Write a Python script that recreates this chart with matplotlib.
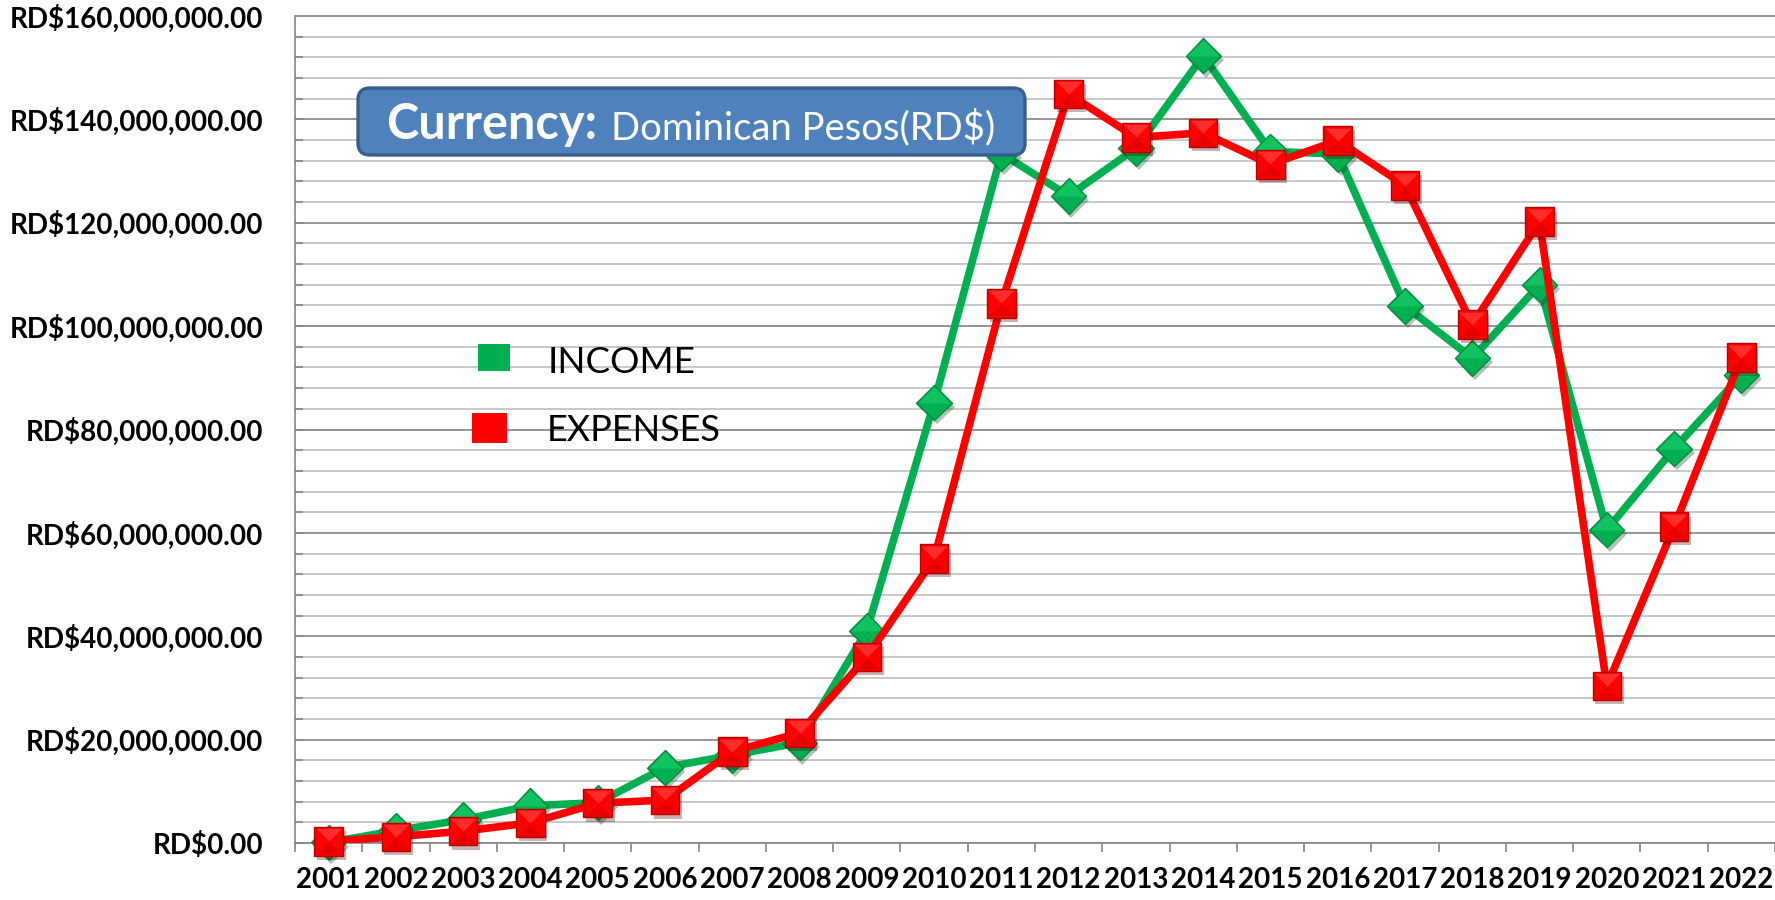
import matplotlib

matplotlib.use("Agg")
import matplotlib.pyplot as plt
import numpy as np
from matplotlib import patheffects
from matplotlib.patches import FancyBboxPatch, Rectangle
from matplotlib.path import Path
from matplotlib.ticker import FuncFormatter, MultipleLocator
from matplotlib.transforms import IdentityTransform

plt.rcParams["font.family"] = ["Lato", "DejaVu Sans"]

years = [str(y) for y in range(2001, 2023)]
# yearly totals, millions of RD$
income_m = [0.1, 2.4, 4.5, 7.2, 7.8, 14.6, 17.0, 19.4, 41.1, 85.2, 133.4,
            125.2, 134.4, 152.3, 133.8, 133.3, 103.9, 93.8, 108.0, 60.6,
            76.3, 90.5]
expenses_m = [0.3, 1.2, 2.3, 3.9, 7.7, 8.3, 17.7, 21.3, 36.0, 55.0, 104.4,
              144.9, 136.5, 137.4, 131.3, 135.9, 127.2, 100.3, 120.2, 30.4,
              61.2, 93.9]

GREEN = "#00B050"
GREEN_DARK = "#008A3E"
GREEN_LIGHT = "#1FD16F"
RED = "#FF0000"
RED_DARK = "#B80000"
RED_LIGHT = "#FF4A4A"
AXIS_GRAY = "#868686"

W, H = 1775, 900
fig = plt.figure(figsize=(W / 100, H / 100), dpi=100)
ax = fig.add_axes([295 / W, 1 - 843 / H, 1480 / W, 827 / H])

x = np.arange(len(years))
income = np.array(income_m) * 1e6
expenses = np.array(expenses_m) * 1e6

# bevelled facets drawn over the plain markers
top_half = Path([(-1, 0), (0, 1), (1, 0), (-1, 0)],
                [Path.MOVETO, Path.LINETO, Path.LINETO, Path.CLOSEPOLY])
sq_top = Path([(-1, 1), (1, 1), (0, 0), (-1, 1)],
              [Path.MOVETO, Path.LINETO, Path.LINETO, Path.CLOSEPOLY])
sq_bottom = Path([(-1, -1), (1, -1), (0, 0), (-1, -1)],
                 [Path.MOVETO, Path.LINETO, Path.LINETO, Path.CLOSEPOLY])
shadow = [patheffects.SimplePatchShadow(offset=(2, -3), alpha=0.3),
          patheffects.Normal()]

DIA = 18
SQ = 20.5

ax.plot(x, income, color=GREEN, lw=5.5, zorder=3, solid_joinstyle="round")
ax.plot(x, income, ls="none", marker="D", ms=DIA, mfc=GREEN, mec=GREEN_DARK,
        mew=1.0, zorder=4, clip_on=False, path_effects=shadow)
ax.plot(x, income, ls="none", marker=top_half, ms=DIA * 1.414 - 2,
        mfc=GREEN_LIGHT, mec="none", alpha=0.55, zorder=4.1, clip_on=False)

ax.plot(x, expenses, color=RED, lw=5.5, zorder=5, solid_joinstyle="round")
ax.plot(x, expenses, ls="none", marker="s", ms=SQ, mfc=RED, mec=RED_DARK,
        mew=1.0, zorder=6, clip_on=False, path_effects=shadow)
ax.plot(x, expenses, ls="none", marker=sq_top, ms=SQ - 2, mfc=RED_LIGHT,
        mec="none", alpha=0.6, zorder=6.1, clip_on=False)
ax.plot(x, expenses, ls="none", marker=sq_bottom, ms=SQ - 2, mfc="#D80000",
        mec="none", alpha=0.6, zorder=6.1, clip_on=False)

ax.set_xlim(-0.5, len(years) - 0.5)
ax.set_ylim(0, 160e6)

ax.yaxis.set_major_locator(MultipleLocator(20e6))
ax.yaxis.set_minor_locator(MultipleLocator(4e6))
ax.yaxis.set_major_formatter(FuncFormatter(lambda v, _: f"RD${v:,.2f}"))
ax.grid(axis="y", which="minor", color="#C4C4C4", lw=1.3, zorder=0)
ax.grid(axis="y", which="major", color="#959595", lw=1.4, zorder=0)

ax.set_xticks(x)
ax.set_xticklabels(years)
ax.set_xticks(np.arange(len(years) + 1) - 0.5, minor=True)
ax.tick_params(axis="x", which="major", length=0, pad=17, labelsize=20,
               labelcolor="black")
ax.tick_params(axis="x", which="minor", length=6.5, width=1.2,
               color=AXIS_GRAY, direction="out")
ax.tick_params(axis="y", which="both", direction="in", length=5.5, width=1.2,
               color=AXIS_GRAY)
ax.tick_params(axis="y", which="major", pad=23, labelsize=20)
for lab in ax.get_xticklabels() + ax.get_yticklabels():
    lab.set_fontweight("bold")

ax.spines["right"].set_visible(False)
ax.spines["top"].set_color("#959595")
ax.spines["top"].set_linewidth(1.4)
for side in ("left", "bottom"):
    ax.spines[side].set_color(AXIS_GRAY)
    ax.spines[side].set_linewidth(1.2)

# currency note, placed in pixel coordinates
px = IdentityTransform()
box = FancyBboxPatch((358, H - 155), 667, 67,
                     boxstyle="round,pad=0,rounding_size=12",
                     transform=px, fc="#4F81BD", ec="#385D8A", lw=2.4,
                     zorder=10)
fig.patches.append(box)
fig.text(386, H - 139, "Currency:", transform=px, color="white",
         fontsize=35, fontweight="bold", va="baseline", zorder=11)
fig.text(611, H - 139, "Dominican Pesos(RD$)", transform=px, color="white",
         fontsize=27.5, va="baseline", zorder=11)

# series key
fig.patches.append(Rectangle((478, H - 371), 32, 27, transform=px,
                             fc=GREEN, ec="none", zorder=10))
fig.patches.append(Rectangle((472, H - 443), 35, 30, transform=px,
                             fc=RED, ec="none", zorder=10))
fig.text(548, H - 373, "INCOME", transform=px, fontsize=26.5,
         va="baseline", zorder=11)
fig.text(547, H - 441, "EXPENSES", transform=px, fontsize=26,
         va="baseline", zorder=11)

fig.savefig("out.png", dpi=100)
